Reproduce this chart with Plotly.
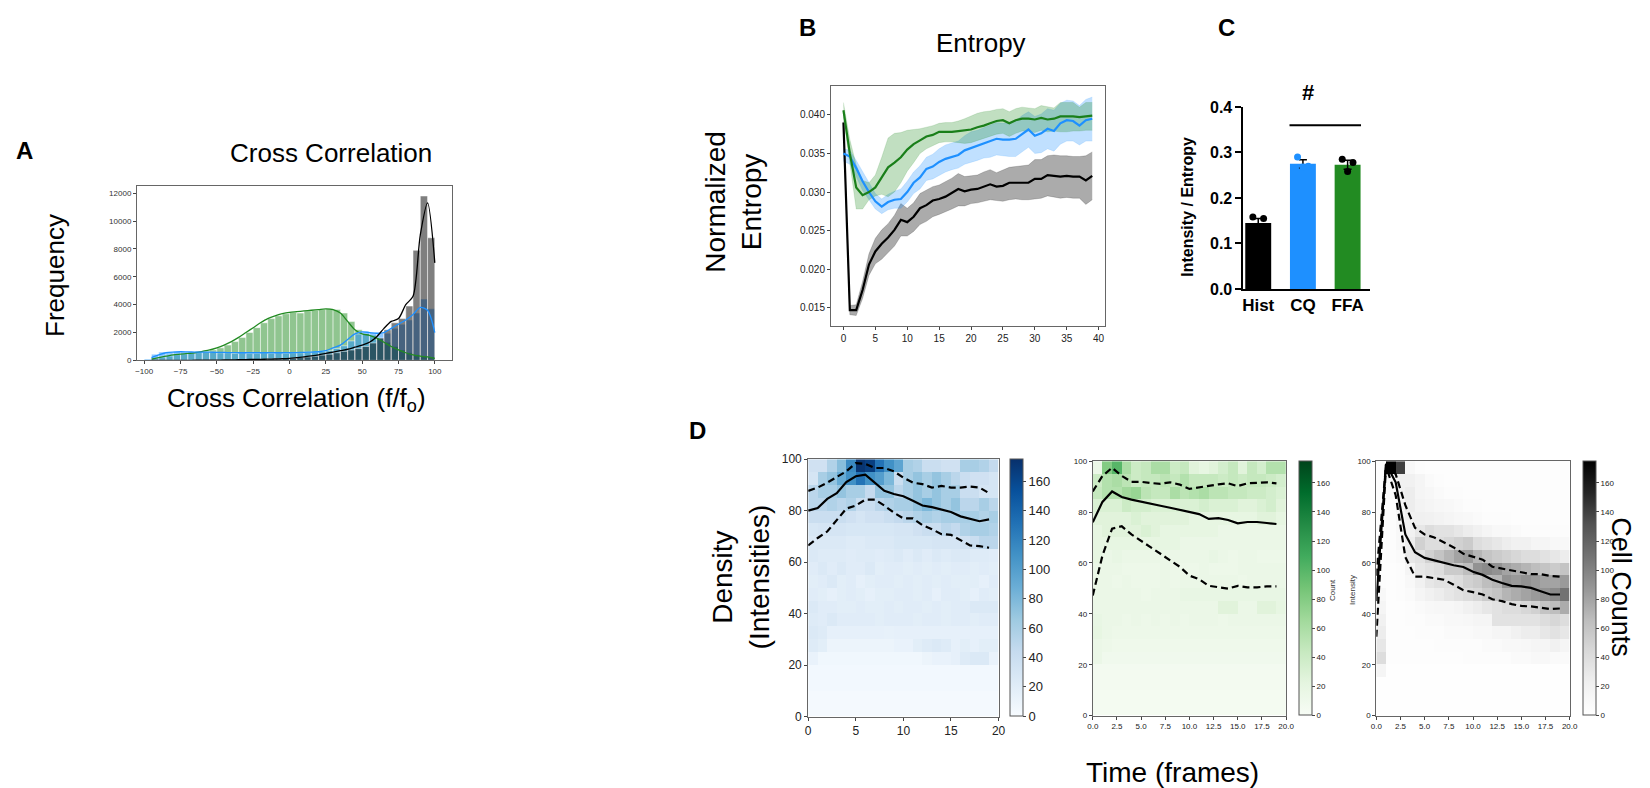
import plotly.graph_objects as go

W, H = 1650, 788
FONT = "Liberation Sans, Arial, sans-serif"

# ---------------- Panel A : cross-correlation histograms ----------------
A_BINS = [-100, -95, -90, -85, -80, -75, -70, -65, -60, -55, -50, -45, -40, -35, -30, -25, -20, -15, -10, -5,
          0, 5, 10, 15, 20, 25, 30, 35, 40, 45, 50, 55, 60, 65, 70, 75, 80, 85, 90, 95]
A_GREEN = [50, 100, 200, 300, 400, 450, 500, 550, 650, 750, 900, 1100, 1350, 1650, 2000, 2350, 2700, 3000, 3200, 3350,
           3450, 3400, 3550, 3600, 3650, 3700, 3650, 3400, 2800, 2200, 1900, 1800, 1600, 1300, 1000, 750, 550, 400, 300, 250]
A_BLUE = [100, 450, 600, 600, 650, 600, 600, 650, 600, 600, 550, 550, 500, 550, 500, 500, 550, 500, 550, 500,
          550, 550, 600, 600, 650, 700, 850, 1050, 1400, 1900, 2050, 2000, 1950, 1950, 2300, 2600, 2900, 3400, 4400, 3700]
A_BLACK = [0, 0, 0, 0, 0, 0, 0, 10, 10, 15, 15, 20, 20, 30, 40, 60, 80, 100, 110, 130,
           150, 200, 250, 300, 380, 450, 550, 650, 750, 850, 1000, 1250, 1600, 2200, 2700, 3000, 3900, 7900, 11800, 8800]
KDE_X = [-95, -90, -85, -80, -75, -70, -65, -60, -55, -50, -45, -40, -35, -30, -25, -20, -15, -10, -5, 0,
         5, 10, 15, 20, 25, 30, 35, 40, 45, 50, 55, 60, 65, 70, 75, 80, 85, 90, 95, 100]
KDE_GREEN = [100, 200, 300, 400, 450, 500, 550, 650, 750, 900, 1100, 1350, 1650, 2000, 2350, 2700, 3000, 3200, 3350, 3450,
             3500, 3550, 3600, 3650, 3700, 3650, 3400, 2800, 2200, 1900, 1800, 1600, 1300, 1000, 750, 550, 400, 300, 250, 150]
KDE_BLUE = [200, 400, 550, 600, 620, 610, 600, 600, 590, 580, 570, 560, 550, 550, 550, 550, 550, 550, 550, 550,
            560, 580, 600, 620, 700, 900, 1100, 1500, 1900, 2050, 2000, 1950, 2000, 2300, 2600, 2900, 3300, 3800, 3600, 2000]
KDE_BLACK = [0, 0, 0, 0, 0, 0, 10, 10, 20, 20, 30, 40, 50, 60, 70, 80, 90, 100, 120, 150,
             200, 250, 320, 400, 500, 600, 700, 800, 950, 1100, 1300, 1700, 2300, 2800, 3000, 4000, 4600, 9000, 11300, 7000]
A_YTICKS = [0, 2000, 4000, 6000, 8000, 10000, 12000]
A_XTICKS = [-100, -75, -50, -25, 0, 25, 50, 75, 100]

# ---------------- Panel B : entropy over time ----------------
B_T = list(range(40))
BLACK_MEAN = [0.0390, 0.0147, 0.0147, 0.0173, 0.0206, 0.0223, 0.0233, 0.0241, 0.0251, 0.0264, 0.0261, 0.0268, 0.0279, 0.0283,
              0.0289, 0.0291, 0.0294, 0.0299, 0.0304, 0.0301, 0.0303, 0.0304, 0.0307, 0.0310, 0.0307, 0.0308, 0.0312, 0.0312,
              0.0312, 0.0312, 0.0317, 0.0317, 0.0322, 0.0321, 0.0320, 0.0321, 0.0320, 0.0320, 0.0315, 0.0321]
BLACK_LO = [0.0388, 0.0141, 0.0140, 0.0162, 0.0192, 0.0207, 0.0213, 0.0222, 0.0230, 0.0243, 0.0243, 0.0249, 0.0258, 0.0262,
            0.0268, 0.0271, 0.0274, 0.0278, 0.0282, 0.0282, 0.0285, 0.0286, 0.0288, 0.0290, 0.0289, 0.0288, 0.0290, 0.0291,
            0.0290, 0.0290, 0.0291, 0.0292, 0.0295, 0.0293, 0.0292, 0.0293, 0.0292, 0.0292, 0.0284, 0.0290]
BLACK_HI = [0.0392, 0.0153, 0.0154, 0.0184, 0.0220, 0.0240, 0.0251, 0.0259, 0.0270, 0.0285, 0.0279, 0.0286, 0.0298, 0.0302,
            0.0307, 0.0309, 0.0313, 0.0318, 0.0324, 0.0320, 0.0321, 0.0322, 0.0326, 0.0329, 0.0325, 0.0328, 0.0332, 0.0333,
            0.0334, 0.0335, 0.0342, 0.0342, 0.0347, 0.0348, 0.0347, 0.0347, 0.0346, 0.0346, 0.0347, 0.0352]
BLUE_MEAN = [0.0350, 0.0346, 0.0331, 0.0314, 0.0300, 0.0288, 0.0281, 0.0287, 0.0290, 0.0291, 0.0300, 0.0312, 0.0319, 0.0330,
             0.0333, 0.0339, 0.0343, 0.0346, 0.0348, 0.0354, 0.0357, 0.0360, 0.0363, 0.0365, 0.0369, 0.0368, 0.0368, 0.0369,
             0.0375, 0.0381, 0.0373, 0.0376, 0.0382, 0.0379, 0.0389, 0.0393, 0.0392, 0.0386, 0.0393, 0.0395]
BLUE_LO = [0.0340, 0.0336, 0.0320, 0.0302, 0.0290, 0.0278, 0.0272, 0.0277, 0.0279, 0.0279, 0.0287, 0.0298, 0.0304, 0.0315,
           0.0317, 0.0322, 0.0326, 0.0329, 0.0331, 0.0336, 0.0338, 0.0341, 0.0344, 0.0345, 0.0348, 0.0347, 0.0346, 0.0346,
           0.0352, 0.0358, 0.0350, 0.0351, 0.0356, 0.0353, 0.0362, 0.0366, 0.0366, 0.0361, 0.0366, 0.0366]
BLUE_HI = [0.0356, 0.0354, 0.0341, 0.0326, 0.0311, 0.0298, 0.0291, 0.0297, 0.0301, 0.0304, 0.0314, 0.0326, 0.0334, 0.0345,
           0.0349, 0.0356, 0.0361, 0.0364, 0.0366, 0.0373, 0.0378, 0.0380, 0.0383, 0.0386, 0.0390, 0.0389, 0.0390, 0.0392,
           0.0399, 0.0404, 0.0398, 0.0401, 0.0408, 0.0406, 0.0415, 0.0419, 0.0418, 0.0412, 0.0420, 0.0423]
GREEN_MEAN = [0.0406, 0.0350, 0.0306, 0.0296, 0.0300, 0.0306, 0.0319, 0.0332, 0.0338, 0.0345, 0.0355, 0.0362, 0.0367, 0.0372,
              0.0374, 0.0378, 0.0378, 0.0378, 0.0379, 0.0380, 0.0381, 0.0384, 0.0386, 0.0389, 0.0392, 0.0393, 0.0389, 0.0393,
              0.0395, 0.0395, 0.0394, 0.0396, 0.0394, 0.0395, 0.0398, 0.0398, 0.0398, 0.0397, 0.0398, 0.0399]
GREEN_LO = [0.0397, 0.0335, 0.0278, 0.0278, 0.0290, 0.0295, 0.0297, 0.0294, 0.0300, 0.0312, 0.0327, 0.0338, 0.0350, 0.0356,
            0.0360, 0.0364, 0.0365, 0.0365, 0.0364, 0.0363, 0.0364, 0.0367, 0.0369, 0.0372, 0.0375, 0.0376, 0.0372, 0.0376,
            0.0379, 0.0379, 0.0377, 0.0380, 0.0378, 0.0379, 0.0378, 0.0378, 0.0379, 0.0379, 0.0380, 0.0380]
GREEN_HI = [0.0416, 0.0368, 0.0335, 0.0315, 0.0312, 0.0322, 0.0345, 0.0370, 0.0376, 0.0377, 0.0380, 0.0381, 0.0382, 0.0384,
            0.0386, 0.0389, 0.0390, 0.0390, 0.0392, 0.0395, 0.0399, 0.0402, 0.0404, 0.0405, 0.0407, 0.0408, 0.0404, 0.0408,
            0.0410, 0.0409, 0.0408, 0.0412, 0.0410, 0.0409, 0.0416, 0.0416, 0.0416, 0.0410, 0.0416, 0.0416]

# ---------------- Panel C : bar chart ----------------
C_GROUPS = ["Hist", "CQ", "FFA"]
C_MEANS = [0.145, 0.275, 0.273]
C_SEM = [0.010, 0.009, 0.010]
C_POINTS = [[0.158, 0.155, 0.130], [0.290, 0.270, 0.268], [0.285, 0.278, 0.258]]
C_COLORS = ["#000000", "#1E90FF", "#228B22"]

# ---------------- Panel D : time x intensity 2D histograms ----------------
D_XC = [0.5, 1.5, 2.5, 3.5, 4.5, 5.5, 6.5, 7.5, 8.5, 9.5, 10.5, 11.5, 12.5, 13.5, 14.5, 15.5, 16.5, 17.5, 18.5, 19.5]
D_YC_TOPDOWN = [97.5, 92.5, 87.5, 82.5, 77.5, 72.5, 67.5, 62.5, 57.5, 52.5, 47.5, 42.5, 37.5, 32.5, 27.5, 22.5, 17.5, 12.5, 7.5, 2.5]
BLUE_COUNTS = [
    [35, 35, 55, 75, 115, 172, 165, 130, 110, 95, 60, 55, 40, 40, 35, 35, 60, 60, 55, 45],
    [30, 60, 70, 90, 110, 130, 110, 100, 80, 40, 60, 70, 60, 70, 60, 50, 40, 35, 35, 30],
    [50, 60, 60, 70, 60, 60, 45, 70, 70, 50, 60, 70, 60, 70, 60, 60, 40, 40, 30, 30],
    [50, 50, 55, 50, 55, 40, 40, 50, 55, 60, 60, 70, 80, 70, 60, 70, 50, 50, 60, 50],
    [40, 40, 40, 40, 35, 30, 35, 35, 40, 45, 50, 55, 60, 55, 60, 60, 60, 60, 55, 60],
    [28, 30, 30, 30, 28, 28, 28, 28, 28, 30, 30, 35, 40, 40, 50, 45, 55, 60, 60, 55],
    [25, 25, 25, 25, 22, 22, 25, 25, 25, 28, 28, 28, 28, 30, 30, 30, 35, 40, 50, 50],
    [25, 22, 22, 22, 20, 22, 22, 20, 22, 25, 20, 25, 20, 25, 22, 25, 25, 22, 22, 20],
    [20, 25, 20, 25, 20, 20, 25, 18, 20, 20, 18, 20, 18, 20, 18, 20, 20, 18, 20, 18],
    [18, 20, 25, 18, 20, 15, 18, 20, 20, 18, 20, 18, 20, 18, 20, 18, 18, 18, 15, 20],
    [20, 18, 15, 18, 20, 18, 15, 18, 18, 20, 20, 18, 20, 15, 20, 20, 18, 15, 20, 18],
    [25, 20, 20, 18, 18, 20, 18, 18, 20, 18, 20, 20, 18, 20, 18, 20, 20, 25, 25, 25],
    [22, 20, 25, 20, 20, 20, 20, 18, 20, 20, 20, 18, 20, 20, 18, 20, 20, 18, 20, 20],
    [25, 22, 15, 15, 15, 15, 15, 15, 14, 15, 15, 15, 15, 15, 15, 15, 15, 15, 15, 15],
    [22, 18, 10, 10, 10, 10, 10, 10, 10, 12, 12, 18, 22, 25, 22, 15, 18, 15, 18, 18],
    [12, 6, 6, 6, 6, 6, 6, 6, 6, 6, 6, 6, 10, 12, 12, 15, 22, 25, 25, 12],
    [4, 4, 4, 4, 4, 4, 4, 4, 4, 4, 4, 4, 4, 4, 4, 4, 4, 4, 4, 4],
    [4, 4, 4, 4, 4, 4, 4, 4, 4, 4, 4, 4, 4, 4, 4, 4, 4, 4, 4, 4],
    [3, 3, 3, 3, 3, 3, 3, 3, 3, 3, 3, 3, 3, 3, 3, 3, 3, 3, 3, 3],
    [3, 3, 3, 3, 3, 3, 3, 3, 3, 3, 3, 3, 3, 3, 3, 3, 3, 3, 3, 3],
]
GREEN_COUNTS = [
    [15, 80, 100, 60, 40, 45, 60, 60, 40, 45, 25, 20, 25, 35, 45, 25, 45, 35, 55, 55],
    [40, 55, 60, 50, 40, 45, 45, 50, 45, 55, 45, 45, 45, 40, 45, 40, 45, 45, 40, 35],
    [45, 55, 55, 65, 70, 50, 45, 45, 60, 50, 55, 60, 50, 50, 45, 45, 40, 40, 35, 30],
    [30, 30, 30, 40, 35, 35, 30, 30, 30, 30, 30, 35, 30, 30, 30, 25, 25, 30, 35, 25],
    [25, 25, 25, 25, 30, 25, 25, 25, 25, 25, 20, 20, 20, 20, 20, 20, 20, 25, 25, 20],
    [20, 25, 25, 25, 25, 30, 25, 20, 20, 20, 20, 20, 20, 15, 15, 15, 15, 15, 15, 15],
    [20, 20, 20, 20, 20, 20, 20, 20, 20, 15, 15, 15, 15, 15, 15, 15, 15, 15, 15, 15],
    [20, 15, 18, 15, 15, 15, 15, 15, 15, 15, 15, 15, 18, 15, 12, 15, 15, 12, 12, 12],
    [15, 15, 15, 12, 12, 12, 12, 15, 12, 12, 12, 15, 12, 12, 12, 15, 15, 15, 15, 15],
    [15, 15, 12, 15, 12, 12, 12, 15, 12, 15, 15, 15, 15, 15, 15, 12, 15, 15, 15, 15],
    [15, 15, 15, 15, 15, 12, 15, 15, 15, 18, 18, 18, 18, 18, 18, 18, 18, 18, 18, 18],
    [15, 15, 15, 15, 15, 15, 15, 15, 15, 15, 15, 15, 15, 25, 25, 15, 15, 25, 25, 20],
    [18, 15, 15, 12, 15, 12, 15, 12, 15, 12, 15, 15, 15, 12, 15, 15, 15, 15, 15, 15],
    [20, 15, 12, 12, 12, 12, 12, 12, 12, 12, 12, 12, 12, 12, 12, 12, 12, 12, 12, 12],
    [15, 12, 10, 10, 10, 10, 10, 10, 10, 10, 10, 10, 10, 10, 10, 10, 10, 10, 10, 10],
    [15, 8, 8, 8, 8, 8, 8, 8, 8, 8, 8, 8, 8, 8, 8, 8, 8, 8, 8, 8],
    [5, 5, 5, 5, 5, 5, 5, 5, 5, 5, 5, 5, 5, 5, 5, 5, 5, 5, 5, 5],
    [5, 5, 5, 5, 5, 5, 5, 5, 5, 5, 5, 5, 5, 5, 5, 5, 5, 5, 5, 5],
    [4, 4, 4, 4, 4, 4, 4, 4, 4, 4, 4, 4, 4, 4, 4, 4, 4, 4, 4, 4],
    [4, 4, 4, 4, 4, 4, 4, 4, 4, 4, 4, 4, 4, 4, 4, 4, 4, 4, 4, 4],
]
GREY_COUNTS = [
    [3, 175, 140, 10, 5, 3, 3, 3, 3, 3, 3, 3, 3, 3, 3, 3, 3, 3, 3, 3],
    [3, 10, 20, 20, 15, 8, 5, 3, 3, 3, 3, 3, 3, 3, 3, 3, 3, 3, 3, 3],
    [3, 8, 20, 25, 15, 12, 8, 5, 5, 3, 3, 3, 3, 3, 3, 3, 3, 3, 3, 3],
    [3, 5, 15, 25, 18, 15, 12, 10, 8, 5, 5, 3, 3, 3, 3, 3, 3, 3, 3, 3],
    [3, 5, 12, 20, 22, 20, 18, 15, 12, 10, 8, 5, 5, 5, 3, 3, 3, 3, 3, 3],
    [3, 5, 10, 20, 30, 40, 35, 35, 30, 25, 20, 15, 10, 10, 8, 5, 5, 5, 5, 5],
    [3, 5, 10, 25, 50, 40, 40, 45, 50, 55, 40, 35, 30, 25, 20, 20, 15, 15, 10, 10],
    [3, 5, 8, 30, 35, 50, 60, 70, 80, 85, 70, 60, 55, 50, 45, 40, 40, 35, 30, 25],
    [3, 3, 5, 15, 30, 35, 40, 55, 55, 65, 90, 95, 90, 80, 75, 70, 65, 60, 55, 60],
    [5, 3, 5, 10, 20, 30, 35, 35, 40, 50, 55, 65, 70, 90, 85, 90, 85, 80, 80, 85],
    [10, 3, 5, 8, 15, 20, 25, 30, 35, 40, 45, 55, 60, 70, 75, 80, 85, 90, 95, 110],
    [15, 3, 3, 5, 8, 10, 12, 12, 15, 20, 25, 30, 35, 40, 40, 45, 50, 60, 65, 75],
    [20, 3, 3, 5, 5, 8, 8, 10, 10, 12, 15, 15, 35, 35, 35, 35, 35, 40, 45, 40],
    [25, 3, 3, 3, 5, 5, 5, 8, 8, 8, 10, 10, 15, 15, 20, 25, 25, 30, 35, 30],
    [30, 3, 3, 3, 3, 3, 5, 5, 5, 5, 5, 8, 8, 10, 10, 12, 15, 15, 20, 15],
    [40, 3, 3, 3, 3, 3, 3, 3, 3, 5, 5, 5, 5, 5, 8, 8, 10, 10, 8, 8],
    [15, 2, 2, 2, 2, 2, 2, 2, 2, 2, 2, 2, 2, 2, 2, 2, 2, 2, 2, 2],
    [2, 2, 2, 2, 2, 2, 2, 2, 2, 2, 2, 2, 2, 2, 2, 2, 2, 2, 2, 2],
    [2, 2, 2, 2, 2, 2, 2, 2, 2, 2, 2, 2, 2, 2, 2, 2, 2, 2, 2, 2],
    [2, 2, 2, 2, 2, 2, 2, 2, 2, 2, 2, 2, 2, 2, 2, 2, 2, 2, 2, 2],
]
D_T = [0, 1, 2, 3, 4, 5, 6, 7, 8, 9, 10, 11, 12, 13, 14, 15, 16, 17, 18, 19]
D1_MED = [80.0, 81.0, 84.6, 86.8, 91.1, 93.4, 94.0, 90.9, 87.7, 86.5, 85.6, 83.9, 82.0, 81.4, 80.5, 79.5, 77.8, 76.7, 75.9, 76.6]
D1_UP = [87.7, 89.0, 90.9, 93.2, 95.3, 98.5, 98.2, 96.6, 96.6, 95.3, 92.8, 90.9, 90.3, 89.0, 89.6, 89.0, 89.0, 89.4, 89.0, 86.8]
D1_LOW = [66.5, 69.4, 71.9, 76.3, 80.8, 82.0, 84.3, 84.3, 82.0, 79.2, 77.0, 77.0, 74.4, 72.8, 70.9, 70.6, 68.7, 66.5, 66.2, 65.6]
D2_MED = [76.0, 84.0, 88.1, 85.9, 84.9, 84.0, 83.3, 82.5, 81.7, 80.8, 79.9, 79.2, 77.3, 77.6, 76.9, 75.6, 76.1, 76.1, 75.7, 75.3]
D2_UP = [88.1, 94.2, 97.4, 94.2, 91.9, 91.9, 91.4, 91.1, 91.7, 90.8, 89.1, 89.8, 90.4, 90.9, 91.3, 90.2, 91.3, 91.4, 91.7, 91.3]
D2_LOW = [47.2, 62.9, 73.5, 74.4, 71.2, 68.7, 66.4, 63.6, 61.0, 58.5, 55.0, 53.6, 51.0, 50.4, 49.9, 51.0, 50.4, 50.4, 50.8, 50.8]
D3_MED = [45.0, 99.0, 91.7, 71.2, 64.2, 62.0, 61.0, 60.0, 59.1, 58.4, 56.5, 55.3, 53.4, 52.1, 51.0, 50.8, 50.2, 48.9, 47.6, 47.6]
D3_UP = [55.0, 98.5, 94.9, 82.7, 73.8, 71.2, 70.0, 68.0, 66.1, 63.6, 62.3, 61.3, 58.5, 57.8, 57.2, 56.2, 55.6, 55.6, 54.9, 54.6]
D3_LOW = [31.0, 98.0, 86.6, 62.3, 54.6, 54.6, 54.0, 53.4, 51.4, 49.3, 48.5, 47.6, 45.7, 45.0, 43.8, 43.1, 42.9, 42.5, 41.9, 42.1]

BLUES = ["#f7fbff", "#deebf7", "#c6dbef", "#9ecae1", "#6baed6", "#4292c6", "#2171b5", "#08519c", "#08306b"]
GREENS = ["#f7fcf5", "#e5f5e0", "#c7e9c0", "#a1d99b", "#74c476", "#41ab5d", "#238b45", "#006d2c", "#00441b"]
GREYS = ["#ffffff", "#f0f0f0", "#d9d9d9", "#bdbdbd", "#969696", "#737373", "#525252", "#252525", "#000000"]


def cscale(cols):
    n = len(cols) - 1
    return [[i / n, c] for i, c in enumerate(cols)]


def xd(x0, x1):
    return [x0 / W, x1 / W]


def yd(y0, y1):
    return [1 - y1 / H, 1 - y0 / H]


def px(x):
    return x / W


def py(y):
    return 1 - y / H


fig = go.Figure()

# ---- Panel A traces (green drawn first, black last, as in the layered seaborn plot)
for counts, col in [(A_GREEN, "rgba(34,139,34,0.5)"), (A_BLUE, "rgba(30,144,255,0.5)"), (A_BLACK, "rgba(0,0,0,0.5)")]:
    fig.add_trace(go.Bar(x=A_BINS, y=counts, width=5, offset=0, marker=dict(color=col, line=dict(color="white", width=0.5)),
                         xaxis="x", yaxis="y", showlegend=False))
for kde, col in [(KDE_GREEN, "#228B22"), (KDE_BLUE, "#1E90FF"), (KDE_BLACK, "#000000")]:
    fig.add_trace(go.Scatter(x=KDE_X, y=kde, mode="lines", line=dict(color=col, width=1.3, shape="spline", smoothing=0.8),
                             xaxis="x", yaxis="y", showlegend=False))

# ---- Panel B traces
for lo, hi, fillc in [(BLACK_LO, BLACK_HI, "rgba(0,0,0,0.33)"), (BLUE_LO, BLUE_HI, "rgba(30,144,255,0.28)"),
                      (GREEN_LO, GREEN_HI, "rgba(34,139,34,0.28)")]:
    fig.add_trace(go.Scatter(x=B_T, y=hi, mode="lines", line=dict(width=0.5, color=fillc), xaxis="x2", yaxis="y2",
                             showlegend=False))
    fig.add_trace(go.Scatter(x=B_T, y=lo, mode="lines", line=dict(width=0.5, color=fillc), fill="tonexty",
                             fillcolor=fillc, xaxis="x2", yaxis="y2", showlegend=False))
for mean, col in [(BLACK_MEAN, "#000000"), (BLUE_MEAN, "#1E90FF"), (GREEN_MEAN, "#1a7f1a")]:
    fig.add_trace(go.Scatter(x=B_T, y=mean, mode="lines", line=dict(color=col, width=2.2), xaxis="x2", yaxis="y2",
                             showlegend=False))

# ---- Panel C traces
C_X = [0, 1, 2]
fig.add_trace(go.Bar(x=C_X, y=C_MEANS, width=0.58, marker=dict(color=C_COLORS, line=dict(width=0)),
                     error_y=dict(type="data", array=C_SEM, color="black", thickness=1.5, width=4),
                     xaxis="x3", yaxis="y3", showlegend=False))
for i, pts in enumerate(C_POINTS):
    fig.add_trace(go.Scatter(x=[C_X[i] - 0.12, C_X[i] + 0.12, C_X[i]], y=pts, mode="markers",
                             marker=dict(color="#1E90FF" if i == 1 else "black", size=7), xaxis="x3", yaxis="y3",
                             showlegend=False))

# ---- Panel D traces
heat_specs = [
    (BLUE_COUNTS, BLUES, "x4", "y4", 1005, 453, 716, 13),
    (GREEN_COUNTS, GREENS, "x5", "y5", 1296, 455, 715, 8),
    (GREY_COUNTS, GREYS, "x6", "y6", 1582, 455, 715, 8),
]
for z, cols, xa, ya, cbx, cbt, cbb, tsz in heat_specs:
    fig.add_trace(go.Heatmap(x=D_XC, y=D_YC_TOPDOWN[::-1], z=z[::-1], colorscale=cscale(cols), zmin=0, zmax=175,
                             xaxis=xa, yaxis=ya,
                             colorbar=dict(x=px(cbx), xanchor="left", y=py(cbt), yanchor="top", len=(cbb - cbt) / H,
                                           lenmode="fraction", thickness=13, xpad=0, ypad=0, outlinewidth=1,
                                           outlinecolor="#555", tickvals=[0, 20, 40, 60, 80, 100, 120, 140, 160],
                                           ticks="outside", ticklen=3, tickcolor="#444",
                                           tickfont=dict(size=tsz, color="#222", family=FONT))))
for med, up, low, xa, ya in [(D1_MED, D1_UP, D1_LOW, "x4", "y4"), (D2_MED, D2_UP, D2_LOW, "x5", "y5"),
                             (D3_MED, D3_UP, D3_LOW, "x6", "y6")]:
    fig.add_trace(go.Scatter(x=D_T, y=med, mode="lines", line=dict(color="black", width=2.2), xaxis=xa, yaxis=ya,
                             showlegend=False))
    for arr in (up, low):
        fig.add_trace(go.Scatter(x=D_T, y=arr, mode="lines", line=dict(color="black", width=2.2, dash="7px,4px"),
                                 xaxis=xa, yaxis=ya, showlegend=False))

frame = dict(showline=True, mirror=True, linecolor="#666", linewidth=1, ticks="outside", ticklen=3, tickcolor="#444",
             showgrid=False, zeroline=False)

layout = dict(
    width=W, height=H, margin=dict(l=0, r=0, t=0, b=0), paper_bgcolor="white", plot_bgcolor="white",
    barmode="overlay", font=dict(family=FONT, color="black"), showlegend=False,
    xaxis=dict(domain=xd(124, 442), range=[-105, 112], tickvals=A_XTICKS,
               tickfont=dict(size=8, color="#333"), **frame),
    yaxis=dict(domain=yd(174, 352), range=[0, 12500], tickvals=A_YTICKS, tickformat="d",
               tickfont=dict(size=8, color="#333"), **frame),
    xaxis2=dict(domain=xd(824, 1100), range=[-1.95, 40.95], tickvals=[0, 5, 10, 15, 20, 25, 30, 35, 40],
                tickfont=dict(size=10, color="#222"), anchor="y2", **frame),
    yaxis2=dict(domain=yd(72, 317), range=[0.01262, 0.04368], tickvals=[0.015, 0.020, 0.025, 0.030, 0.035, 0.040],
                tickformat=".3f", tickfont=dict(size=10, color="#222"), anchor="x2", **frame),
    xaxis3=dict(domain=xd(1240, 1368), range=[-0.33, 2.51], tickvals=C_X,
                ticktext=["<b>%s</b>" % g for g in C_GROUPS],
                tickfont=dict(size=17, color="black"), showline=True, linecolor="black", linewidth=2, ticks="",
                showgrid=False, zeroline=False, anchor="y3"),
    yaxis3=dict(domain=yd(93, 279), range=[0, 0.4], tickvals=[0, 0.1, 0.2, 0.3, 0.4],
                ticktext=["<b>0.0</b>", "<b>0.1</b>", "<b>0.2</b>", "<b>0.3</b>", "<b>0.4</b>"],
                tickfont=dict(size=16, color="black"), showline=True, linecolor="black", linewidth=2, ticks="outside",
                ticklen=6, tickwidth=2, tickcolor="black", showgrid=False, zeroline=False, anchor="x3"),
    xaxis4=dict(domain=xd(801, 993), range=[0, 20], tickvals=[0, 5, 10, 15, 20], tickfont=dict(size=12, color="#222"),
                anchor="y4", **frame),
    yaxis4=dict(domain=yd(453, 716), range=[0, 100], tickvals=[0, 20, 40, 60, 80, 100],
                tickfont=dict(size=12, color="#222"), anchor="x4", **frame),
    xaxis5=dict(domain=xd(1088, 1283), range=[0, 20], tickvals=[0, 2.5, 5, 7.5, 10, 12.5, 15, 17.5, 20],
                tickformat=".1f", tickfont=dict(size=8, color="#222"), anchor="y5", **frame),
    yaxis5=dict(domain=yd(455, 715), range=[0, 100], tickvals=[0, 20, 40, 60, 80, 100],
                tickfont=dict(size=8, color="#222"), anchor="x5", **frame),
    xaxis6=dict(domain=xd(1374, 1569), range=[0, 20], tickvals=[0, 2.5, 5, 7.5, 10, 12.5, 15, 17.5, 20],
                tickformat=".1f", tickfont=dict(size=8, color="#222"), anchor="y6", **frame),
    yaxis6=dict(domain=yd(455, 715), range=[0, 100], tickvals=[0, 20, 40, 60, 80, 100],
                tickfont=dict(size=8, color="#222"), anchor="x6", **frame),
)
fig.update_layout(**layout)

ann = []


def text(x, y, s, size, angle=0, bold=False, xanchor="center", yanchor="middle", color="black"):
    ann.append(dict(x=px(x), y=py(y), xref="paper", yref="paper", text=("<b>%s</b>" % s) if bold else s,
                    showarrow=False, textangle=angle, xanchor=xanchor, yanchor=yanchor,
                    font=dict(size=size, family=FONT, color=color)))


text(11, 137, "A", 24, bold=True)
text(320, 140, "Cross Correlation", 26)
text(42, 265, "Frequency", 26, angle=-90)
text(285, 392, "Cross Correlation (f/f<sub>o</sub>)", 26)
text(800, 12, "B", 24, bold=True)
text(975, 28, "Entropy", 26)
text(726, 190, "Normalized<br>Entropy", 28, angle=-90)
text(1223, 12, "C", 24, bold=True)
text(1184, 195, "Intensity / Entropy", 16, angle=-90, bold=True)
text(1305, 78, "#", 22, bold=True)
text(689, 424, "D", 24, bold=True)
text(733, 573, "Density<br>(Intensities)", 28, angle=-90)
text(1168, 773, "Time (frames)", 28)
text(1330, 587, "Count", 8, angle=-90, color="#333")
text(1350, 587, "Intensity", 8, angle=-90, color="#333")
text(1620, 584, "Cell Counts", 27, angle=90)
fig.update_layout(annotations=ann)

fig.add_shape(type="line", xref="x3", yref="y3", x0=0.7, x1=2.3, y0=0.36, y1=0.36,
              line=dict(color="black", width=2))

fig.write_html("out.html")
